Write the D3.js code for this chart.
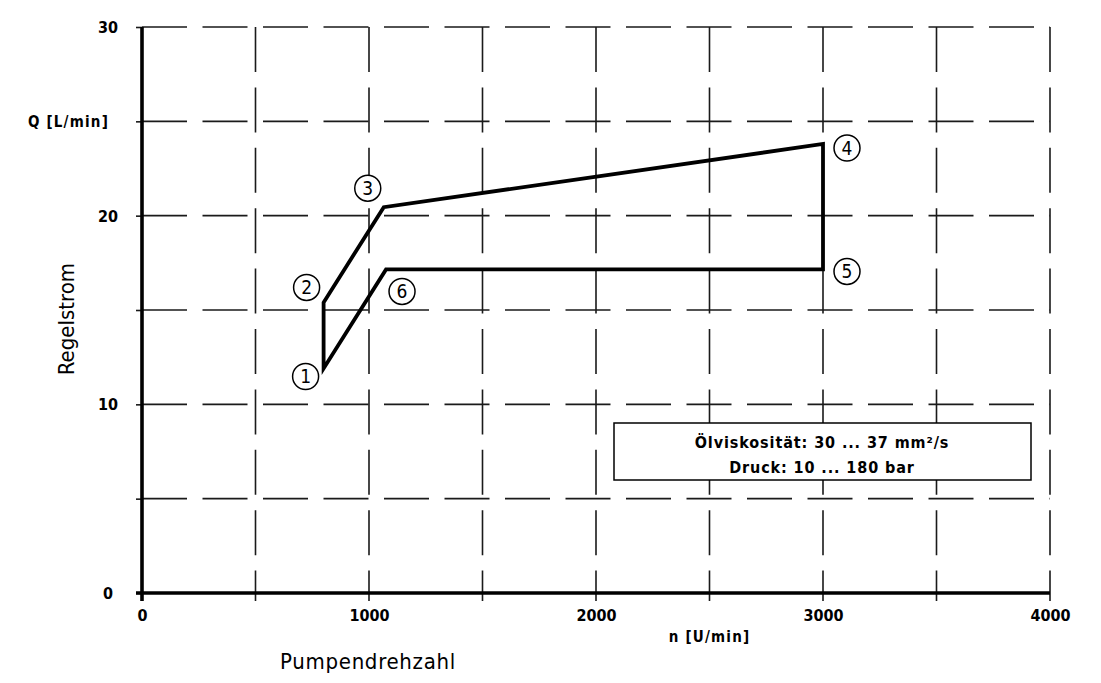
<!DOCTYPE html>
<html>
<head>
<meta charset="utf-8">
<script src="https://cdn.jsdelivr.net/npm/d3@7"></script>
<style>
  html, body { margin: 0; padding: 0; background: #fff; }
  svg { display: block; }
</style>
</head>
<body>
<div id="chart"></div>
<script>
// Regelstrom über Pumpendrehzahl — Kennlinie (D3)

const POINT_IDS = ['1', '2', '3', '4', '5', '6'];
const SPEED     = [800, 800, 1065, 3000, 3000, 1075];    // n [U/min]
const FLOW      = [11.9, 15.4, 20.45, 23.8, 17.15, 17.15]; // Q [L/min]

const X_TICKS   = [0, 1000, 2000, 3000, 4000];
const X_GRID    = [500, 1000, 1500, 2000, 2500, 3000, 3500, 4000];
const Y_TICKS   = [0, 5, 10, 15, 20, 25, 30];
const Y_LABELS  = { 0: '0', 10: '10', 20: '20', 25: 'Q [L/min]', 30: '30' };
const Y_GRID    = [5, 10, 15, 20, 25, 30];

const INFO_LINES = ['Ölviskosität: 30 ... 37 mm²/s', 'Druck: 10 ... 180 bar'];

// label offsets of the circled numbers (px)
const LABEL_OFF = [[-18, 8], [-17, -15], [-16, -19], [24, 4], [24, 2], [16, 22]];

const W = 1101, H = 683;
const FONT = "'DejaVu Sans Condensed', 'DejaVu Sans', sans-serif";
const INK  = '#000';

const svg = d3.select('#chart').append('svg')
  .attr('width', W).attr('height', H)
  .attr('viewBox', `0 0 ${W} ${H}`);

const x = d3.scaleLinear().domain([0, 4000]).range([142, 1050]);
const y = d3.scaleLinear().domain([0, 30]).range([593, 27]);

// ---- grid ----
const grid = svg.append('g')
  .attr('stroke', '#1a1a1a').attr('stroke-width', 1.6).attr('fill', 'none');

grid.selectAll('.vg').data(X_GRID).enter().append('line')
  .attr('x1', d => x(d)).attr('x2', d => x(d))
  .attr('y1', y(30)).attr('y2', y(0) + 8)
  .attr('stroke-dasharray', '45,15.4');

grid.selectAll('.hg').data(Y_GRID).enter().append('line')
  .attr('x1', x(0)).attr('x2', x(4000))
  .attr('y1', d => y(d)).attr('y2', d => y(d))
  .attr('stroke-dasharray', '45,15.5');

// ---- y axis ----
const yAxis = svg.append('g')
  .attr('transform', `translate(${x(0)},0)`)
  .call(d3.axisLeft(y).tickValues(Y_TICKS).tickSize(6).tickPadding(0)
    .tickFormat(d => Y_LABELS[d] || ''));
yAxis.select('.domain').remove();
yAxis.selectAll('.tick line').attr('stroke', '#1a1a1a').attr('stroke-width', 1.6);
yAxis.selectAll('.tick text')
  .attr('x', d => d === 25 ? -33 : -34)
  .attr('text-anchor', d => d === 25 ? 'end' : 'middle')
  .attr('font-family', FONT).attr('font-weight', 'bold')
  .attr('font-size', d => d === 25 ? 15 : 16)
  .attr('letter-spacing', d => d === 25 ? 1.2 : 0)
  .attr('fill', INK).attr('dy', '0.35em');

// ---- x axis ----
const xAxis = svg.append('g')
  .attr('transform', `translate(0,${y(0)})`)
  .call(d3.axisBottom(x).tickValues(X_TICKS).tickSize(0).tickFormat(d3.format('d')));
xAxis.select('.domain').remove();
xAxis.selectAll('.tick text')
  .attr('y', 28).attr('dy', '0')
  .attr('font-family', FONT).attr('font-weight', 'bold')
  .attr('font-size', 16).attr('fill', INK);

// axis lines
svg.append('line')
  .attr('x1', x(0)).attr('x2', x(0))
  .attr('y1', y(30)).attr('y2', y(0) + 8)
  .attr('stroke', INK).attr('stroke-width', 3.6);
svg.append('line')
  .attr('x1', x(0) - 6).attr('x2', x(4000))
  .attr('y1', y(0)).attr('y2', y(0))
  .attr('stroke', INK).attr('stroke-width', 3.6);

// unit label and axis titles
svg.append('text')
  .attr('x', x(2500)).attr('y', y(0) + 49)
  .attr('text-anchor', 'middle')
  .attr('font-family', FONT).attr('font-weight', 'bold').attr('font-size', 15)
  .attr('letter-spacing', 1.2)
  .attr('fill', INK).text('n [U/min]');

svg.append('text')
  .attr('x', 368).attr('y', 669)
  .attr('text-anchor', 'middle')
  .attr('font-family', FONT).attr('font-size', 22)
  .attr('letter-spacing', 0.7)
  .attr('fill', INK).text('Pumpendrehzahl');

svg.append('text')
  .attr('transform', 'translate(74,319) rotate(-90)')
  .attr('text-anchor', 'middle')
  .attr('font-family', FONT).attr('font-size', 22)
  .attr('fill', INK).text('Regelstrom');

// ---- Kennlinie ----
const pts = SPEED.map((s, i) => ({ id: POINT_IDS[i], n: s, q: FLOW[i], off: LABEL_OFF[i] }));

svg.append('path')
  .datum(pts)
  .attr('d', d3.line().x(d => x(d.n)).y(d => y(d.q)).curve(d3.curveLinearClosed))
  .attr('fill', 'none').attr('stroke', INK)
  .attr('stroke-width', 3.8).attr('stroke-linejoin', 'miter');

const lbl = svg.selectAll('.lbl').data(pts).enter().append('g')
  .attr('transform', d => `translate(${x(d.n) + d.off[0]},${y(d.q) + d.off[1]})`);
lbl.append('circle')
  .attr('r', 13).attr('fill', '#fff').attr('stroke', INK).attr('stroke-width', 1.5);
lbl.append('text')
  .attr('text-anchor', 'middle').attr('dy', '0.36em')
  .attr('font-family', FONT).attr('font-size', 19)
  .attr('fill', INK).text(d => d.id);

// ---- info box ----
const box = svg.append('g');
box.append('rect')
  .attr('x', 614).attr('y', 423).attr('width', 417).attr('height', 57)
  .attr('fill', '#fff').attr('stroke', INK).attr('stroke-width', 1.5);
box.selectAll('text').data(INFO_LINES).enter().append('text')
  .attr('x', 822).attr('y', (d, i) => 448 + i * 25)
  .attr('text-anchor', 'middle')
  .attr('font-family', FONT).attr('font-weight', 'bold').attr('font-size', 16)
  .attr('letter-spacing', 0.9)
  .attr('fill', INK).text(d => d);
</script>
</body>
</html>
